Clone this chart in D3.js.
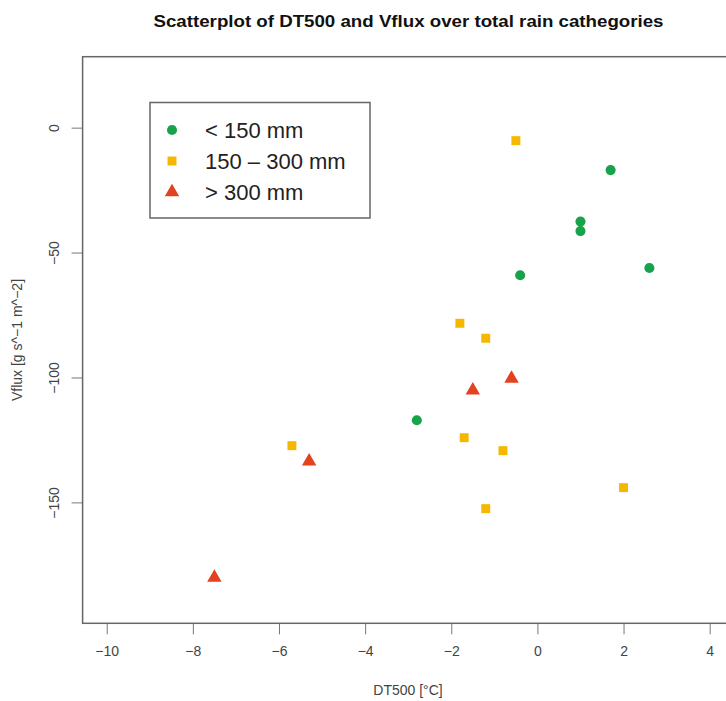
<!DOCTYPE html>
<html>
<head>
<meta charset="utf-8">
<script src="https://cdn.jsdelivr.net/npm/d3@7"></script>
<style>
  body { margin: 0; background: #fff; }
  text { font-family: "Liberation Sans", Arial, sans-serif; }
</style>
</head>
<body>
<div id="chart"></div>
<script>
// values
const lowX = [1.7, 1.0, 1.0, -0.4, 2.6, -2.8]
const lowY = [-17, -37.6, -41.4, -59.1, -56.2, -117.1]

const midX = [-0.5, -1.8, -1.2, -1.7, -0.8, -5.7, 2.0, -1.2]
const midY = [-5.2, -78.3, -84.3, -124.1, -129.3, -127.3, -144.1, -152.5]

const highX = [-0.6, -1.5, -5.3, -7.5]
const highY = [-100, -104.7, -133.2, -179.7]

const xTicks = [-10, -8, -6, -4, -2, 0, 2, 4]
const yTicks = [0, -50, -100, -150]

const groups = [
  { label: "< 150 mm", xs: lowX, ys: lowY, shape: d3.symbolCircle, color: "#17a24b" },
  { label: "150 \u2013 300 mm", xs: midX, ys: midY, shape: d3.symbolSquare, color: "#f6b700" },
  { label: "> 300 mm", xs: highX, ys: highY, shape: d3.symbolTriangle, color: "#e2421f" }
]

var width = 726
var height = 701

var svg = d3.select("#chart").append("svg")
  .attr("width", width)
  .attr("height", height)

// R style: limits padded by 4%
var xLim = [-10, 4], yLim = [-190, 20]
var xPad = (xLim[1] - xLim[0]) * 0.04
var yPad = (yLim[1] - yLim[0]) * 0.04

var xScale = d3.scaleLinear()
  .domain([xLim[0] - xPad, xLim[1] + xPad])
  .range([82.6, 733.8])

var yScale = d3.scaleLinear()
  .domain([yLim[0] - yPad, yLim[1] + yPad])
  .range([623.3, 56.7])

var fmt = d => d < 0 ? "\u2212" + Math.abs(d) : "" + d

// x axis
var xAxisG = svg.append("g")
  .attr("transform", "translate(0," + yScale.range()[0] + ")")
  .call(d3.axisBottom(xScale).tickValues(xTicks).tickSize(11).tickPadding(12).tickFormat(fmt))
xAxisG.select(".domain").remove()
xAxisG.selectAll("line").attr("stroke", "#777")
xAxisG.selectAll("text")
  .attr("fill", "#444")
  .style("font-size", "14px")

// y axis, labels turned like R's las = 0
var yAxisG = svg.append("g")
  .attr("transform", "translate(" + xScale.range()[0] + ",0)")
  .call(d3.axisLeft(yScale).tickValues(yTicks).tickSize(11).tickFormat(fmt))
yAxisG.select(".domain").remove()
yAxisG.selectAll("line").attr("stroke", "#777")
yAxisG.selectAll("text")
  .attr("x", null).attr("dy", null)
  .attr("text-anchor", "middle")
  .attr("transform", "translate(-24,0) rotate(-90)")
  .attr("fill", "#444")
  .style("font-size", "14px")

// plot box
svg.append("rect")
  .attr("x", xScale.range()[0])
  .attr("y", yScale.range()[1])
  .attr("width", xScale.range()[1] - xScale.range()[0])
  .attr("height", yScale.range()[0] - yScale.range()[1])
  .attr("fill", "none")
  .attr("stroke", "#666")
  .attr("stroke-width", 1.5)

// title and axis labels
svg.append("text")
  .attr("x", 408.5)
  .attr("y", 27)
  .attr("text-anchor", "middle")
  .attr("textLength", 510)
  .attr("lengthAdjust", "spacingAndGlyphs")
  .style("font-size", "16px")
  .style("font-weight", "bold")
  .attr("fill", "#111")
  .text("Scatterplot of DT500 and Vflux over total rain cathegories")

svg.append("text")
  .attr("x", 408)
  .attr("y", 695)
  .attr("text-anchor", "middle")
  .attr("fill", "#444")
  .style("font-size", "14px")
  .text("DT500 [\u00b0C]")

svg.append("text")
  .attr("transform", "translate(22,340) rotate(-90)")
  .attr("text-anchor", "middle")
  .attr("fill", "#444")
  .style("font-size", "14px")
  .text("Vflux [g s^\u22121 m^\u22122]")

// points
var sizes = { circle: 80, square: 80, triangle: 90 }
function symSize(shape) {
  return shape === d3.symbolTriangle ? sizes.triangle : shape === d3.symbolSquare ? sizes.square : sizes.circle
}

groups.forEach(function(g) {
  var pts = g.xs.map((x, i) => ({ x: x, y: g.ys[i] }))
  svg.append("g").selectAll("path")
    .data(pts)
    .enter().append("path")
    .attr("d", d3.symbol().type(g.shape).size(symSize(g.shape)))
    .attr("transform", d => "translate(" + xScale(d.x) + "," + (yScale(d.y) + (g.shape === d3.symbolTriangle ? 1 : 0)) + ")")
    .attr("fill", g.color)
})

// legend
var legend = svg.append("g")
legend.append("rect")
  .attr("x", 150).attr("y", 102.5)
  .attr("width", 220).attr("height", 115.5)
  .attr("fill", "#fff")
  .attr("stroke", "#666")
  .attr("stroke-width", 1.5)

var rows = legend.selectAll(".key")
  .data(groups)
  .enter().append("g")
  .attr("class", "key")
  .attr("transform", (d, i) => "translate(172," + (130 + i * 31) + ")")

rows.append("path")
  .attr("d", d => d3.symbol().type(d.shape).size(symSize(d.shape))())
  .attr("fill", d => d.color)

rows.append("text")
  .attr("x", 33)
  .attr("y", 8)
  .attr("fill", "#222")
  .style("font-size", "22px")
  .text(d => d.label)
</script>
</body>
</html>
